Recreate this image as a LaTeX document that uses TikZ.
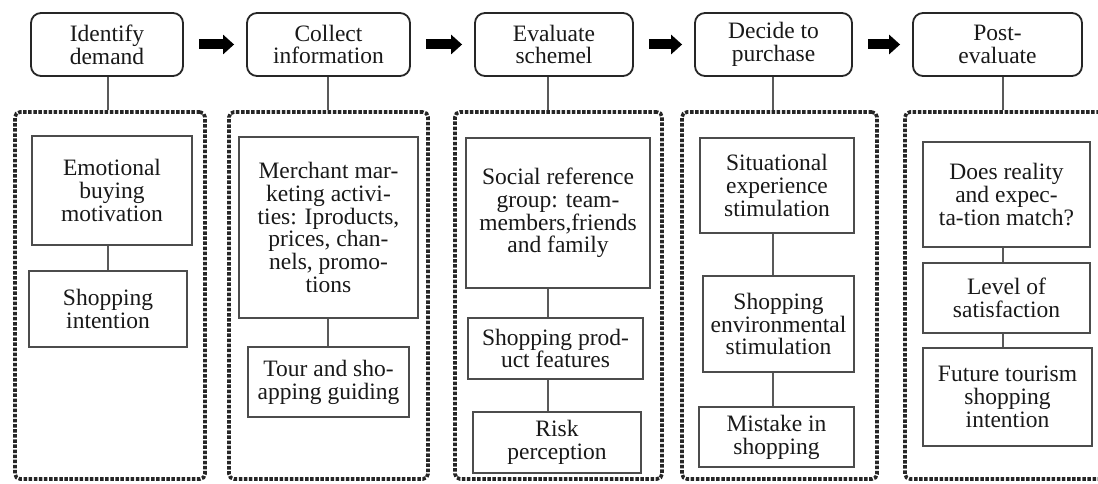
\documentclass[tikz,border=0pt]{standalone}
\usepackage{fontspec}
\setmainfont{Liberation Serif}
\usetikzlibrary{arrows.meta}
\begin{document}
\begin{tikzpicture}[x=1pt,y=-1pt,
  every node/.style={font=\fontsize{23.5}{22.8}\selectfont, align=center, inner sep=0pt, text=black!90},
  topbox/.style={draw=black!85, line width=1.8pt, rounded corners=10pt},
  ibox/.style={draw=black!70, line width=1.8pt},
  dotbox/.style={draw=black!85, line width=3.6pt, dash pattern=on 3.5pt off 1.6pt, rounded corners=5pt},
  conn/.style={draw=black!65, line width=1.8pt},
  bigarrow/.style={line width=10pt, -{Triangle[length=11pt,width=19pt]}, shorten <=15pt, shorten >=12pt}]
\useasboundingbox (0,0) rectangle (1098,484);
\fill[white] (0,0) rectangle (1098,484);
% line x coordinates
\coordinate (L1) at (108,0);
\coordinate (L2) at (328,0);
\coordinate (L3) at (548,0);
\coordinate (L4) at (773,0);
\coordinate (L5) at (1003,0);
% top boxes
\node[topbox, minimum width=152pt, minimum height=63pt] (t1) at (107,44.5) {Identify\\demand};
\node[topbox, minimum width=163pt, minimum height=63pt] (t2) at (328.5,44.5) {Collect\\information};
\node[topbox, minimum width=158pt, minimum height=63pt] (t3) at (554,44.5) {Evaluate\\schemel};
\node[topbox, minimum width=157pt, minimum height=63pt] (t4) at (773.5,44.5) {Decide to\\purchase};
\node[topbox, minimum width=169pt, minimum height=63pt] (t5) at (997.5,44.5) {Post-\\evaluate};
% arrows
\draw[bigarrow] (t1.east) -- (t2.west);
\draw[bigarrow] (t2.east) -- (t3.west);
\draw[bigarrow] (t3.east) -- (t4.west);
\draw[bigarrow] (t4.east) -- (t5.west);
% dotted boxes
\node[dotbox, minimum width=190pt, minimum height=367pt] (d1) at (110,295.5) {};
\node[dotbox, minimum width=199pt, minimum height=367pt] (d2) at (328.5,295.5) {};
\node[dotbox, minimum width=207pt, minimum height=367pt] (d3) at (558.5,295.5) {};
\node[dotbox, minimum width=195pt, minimum height=367pt] (d4) at (779.5,295.5) {};
\node[dotbox, minimum width=210pt, minimum height=367pt] (d5) at (1010,295.5) {};
% top connectors
\draw[conn] (t1.south -| L1) -- (d1.north -| L1);
\draw[conn] (t2.south -| L2) -- (d2.north -| L2);
\draw[conn] (t3.south -| L3) -- (d3.north -| L3);
\draw[conn] (t4.south -| L4) -- (d4.north -| L4);
\draw[conn] (t5.south -| L5) -- (d5.north -| L5);
% column 1
\node[ibox, minimum width=160pt, minimum height=109pt] (a1) at (112,190.5) {Emotional\\buying\\motivation};
\node[ibox, minimum width=158pt, minimum height=76pt] (b1) at (108,309) {Shopping\\intention};
\draw[conn] (a1.south -| L1) -- (b1.north -| L1);
% column 2
\node[ibox, minimum width=179pt, minimum height=181pt] (a2) at (328.5,227.5) {Merchant mar-\\keting activi-\\ties: Iproducts,\\prices, chan-\\nels, promo-\\tions};
\node[ibox, minimum width=161pt, minimum height=70pt] (b2) at (328.5,382) {Tour and sho-\\apping guiding};
\draw[conn] (a2.south -| L2) -- (b2.north -| L2);
% column 3
\node[ibox, minimum width=184pt, minimum height=150pt] (a3) at (558,213) {Social reference\\group: team-\\members,friends\\and family};
\node[ibox, minimum width=175pt, minimum height=61pt] (b3) at (555.5,348.5) {Shopping prod-\\uct features};
\node[ibox, minimum width=168pt, minimum height=61pt] (c3) at (557,442.5) {Risk\\perception};
\draw[conn] (a3.south -| L3) -- (b3.north -| L3);
\draw[conn] (b3.south -| L3) -- (c3.north -| L3);
% column 4
\node[ibox, minimum width=154pt, minimum height=95pt] (a4) at (777,185.5) {Situational\\experience\\stimulation};
\node[ibox, minimum width=151pt, minimum height=96pt] (b4) at (778.5,324) {Shopping\\environmental\\stimulation};
\node[ibox, minimum width=155pt, minimum height=60pt] (c4) at (776.5,437) {Mistake in\\shopping};
\draw[conn] (a4.south -| L4) -- (b4.north -| L4);
\draw[conn] (b4.south -| L4) -- (c4.north -| L4);
% column 5
\node[ibox, minimum width=167pt, minimum height=105pt] (a5) at (1006.5,194.5) {Does reality\\and expec-\\ta-tion match?};
\node[ibox, minimum width=167pt, minimum height=70pt] (b5) at (1006.5,298) {Level of\\satisfaction};
\node[ibox, minimum width=169pt, minimum height=98pt] (c5) at (1007.5,397) {Future tourism\\shopping\\intention};
\draw[conn] (a5.south -| L5) -- (b5.north -| L5);
\draw[conn] (b5.south -| L5) -- (c5.north -| L5);
\end{tikzpicture}
\end{document}
